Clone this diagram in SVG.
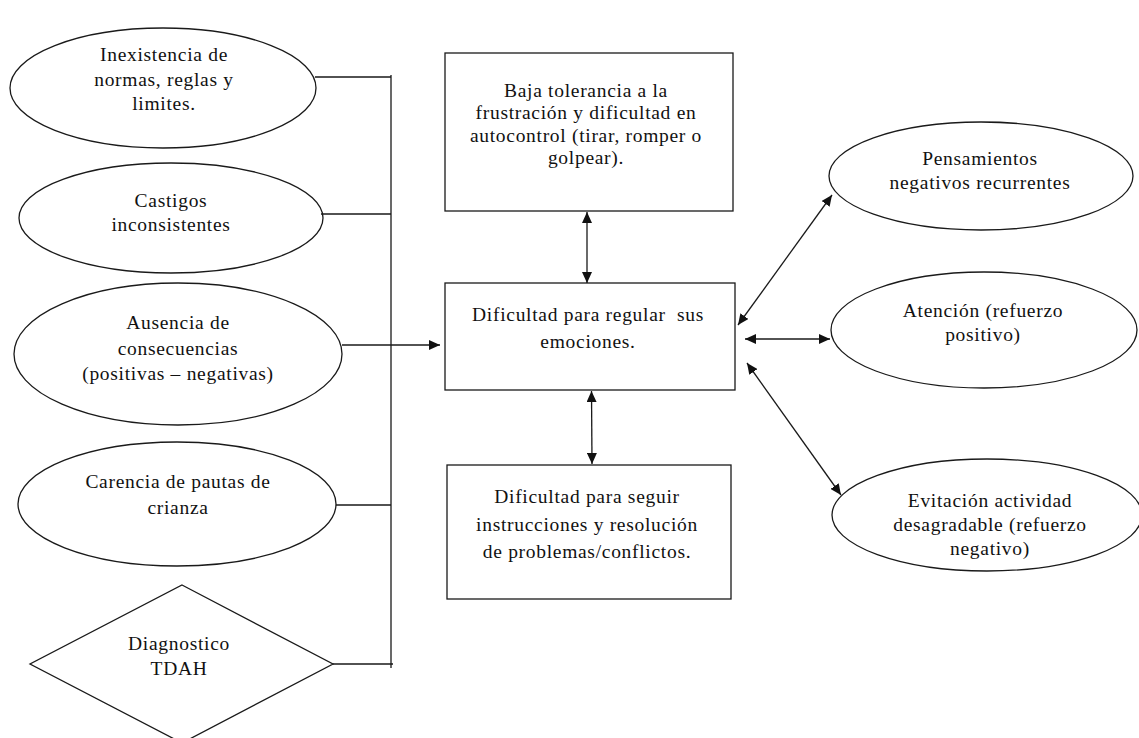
<svg xmlns="http://www.w3.org/2000/svg" width="1139" height="738" viewBox="0 0 1139 738">
<style>
.s{fill:#fff;stroke:#1a1a1a;stroke-width:1.3}
.t{font-family:'Liberation Serif','DejaVu Serif',serif;font-size:19.5px;fill:#111;text-anchor:middle;letter-spacing:0.7px}
.c{fill:none;stroke:#1a1a1a;stroke-width:1.3}
</style>
<defs>
<marker id="ah" markerUnits="userSpaceOnUse" markerWidth="12" markerHeight="10" refX="11" refY="5" orient="auto-start-reverse">
<path d="M0,0 L11,5 L0,10 Z" fill="#111"/>
</marker>
</defs>
<rect width="1139" height="738" fill="#fff"/>
<g id="n1"><ellipse class="s" cx="163" cy="88" rx="153" ry="60"/>
<text class="t"><tspan x="164" y="61">Inexistencia de</tspan><tspan x="164" y="86">normas, reglas y</tspan><tspan x="164" y="110">limites.</tspan></text></g>
<g id="n2"><ellipse class="s" cx="171" cy="218" rx="152" ry="55"/>
<text class="t"><tspan x="171" y="207">Castigos</tspan><tspan x="171" y="231">inconsistentes</tspan></text></g>
<g id="n3"><ellipse class="s" cx="178" cy="354" rx="164" ry="71"/>
<text class="t"><tspan x="178" y="329">Ausencia de</tspan><tspan x="178" y="355">consecuencias</tspan><tspan x="178" y="380">(positivas – negativas)</tspan></text></g>
<g id="n4"><ellipse class="s" cx="177" cy="504" rx="159" ry="62"/>
<text class="t"><tspan x="178" y="488">Carencia de pautas de</tspan><tspan x="178" y="514">crianza</tspan></text></g>
<g id="n5"><polygon class="s" points="182,585 333,664 182,743 30,664"/>
<text class="t"><tspan x="179" y="650">Diagnostico</tspan><tspan x="179" y="675">TDAH</tspan></text></g>
<g id="n6"><rect class="s" x="445" y="53" width="288" height="158"/>
<text class="t"><tspan x="586" y="97">Baja tolerancia a la</tspan><tspan x="586" y="119">frustración y dificultad en</tspan><tspan x="586" y="142">autocontrol (tirar, romper o</tspan><tspan x="586" y="164">golpear).</tspan></text></g>
<g id="n7"><rect class="s" x="445" y="283" width="290" height="107"/>
<text class="t"><tspan x="588" y="321">Dificultad para regular&#160; sus</tspan><tspan x="588" y="348">emociones.</tspan></text></g>
<g id="n8"><rect class="s" x="447" y="465" width="284" height="134"/>
<text class="t"><tspan x="587" y="503">Dificultad para seguir</tspan><tspan x="587" y="531">instrucciones y resolución</tspan><tspan x="587" y="558">de problemas/conflictos.</tspan></text></g>
<g id="n9"><ellipse class="s" cx="981" cy="176" rx="152" ry="54"/>
<text class="t"><tspan x="980" y="165">Pensamientos</tspan><tspan x="980" y="189">negativos recurrentes</tspan></text></g>
<g id="n10"><ellipse class="s" cx="984" cy="330" rx="153" ry="58"/>
<text class="t"><tspan x="983" y="317">Atención (refuerzo</tspan><tspan x="983" y="341">positivo)</tspan></text></g>
<g id="n11"><ellipse class="s" cx="987" cy="515" rx="155" ry="56"/>
<text class="t"><tspan x="990" y="507">Evitación actividad</tspan><tspan x="990" y="531">desagradable (refuerzo</tspan><tspan x="990" y="555">negativo)</tspan></text></g>
<g id="connectors">
<path class="c" d="M315,77 H391 M321,214 H391 M336,505 H391 M333,664 H393 M391,75 V668"/>
<line class="c" x1="342" y1="345" x2="440" y2="345" marker-end="url(#ah)"/>
<line class="c" x1="587" y1="212" x2="587" y2="283" marker-start="url(#ah)" marker-end="url(#ah)"/>
<line class="c" x1="591.5" y1="391" x2="592" y2="464" marker-start="url(#ah)" marker-end="url(#ah)"/>
<line class="c" x1="738" y1="325" x2="832" y2="195" marker-start="url(#ah)" marker-end="url(#ah)"/>
<line class="c" x1="745" y1="339" x2="830" y2="339" marker-start="url(#ah)" marker-end="url(#ah)"/>
<line class="c" x1="747" y1="363" x2="841" y2="495" marker-start="url(#ah)" marker-end="url(#ah)"/>
</g>
</svg>
